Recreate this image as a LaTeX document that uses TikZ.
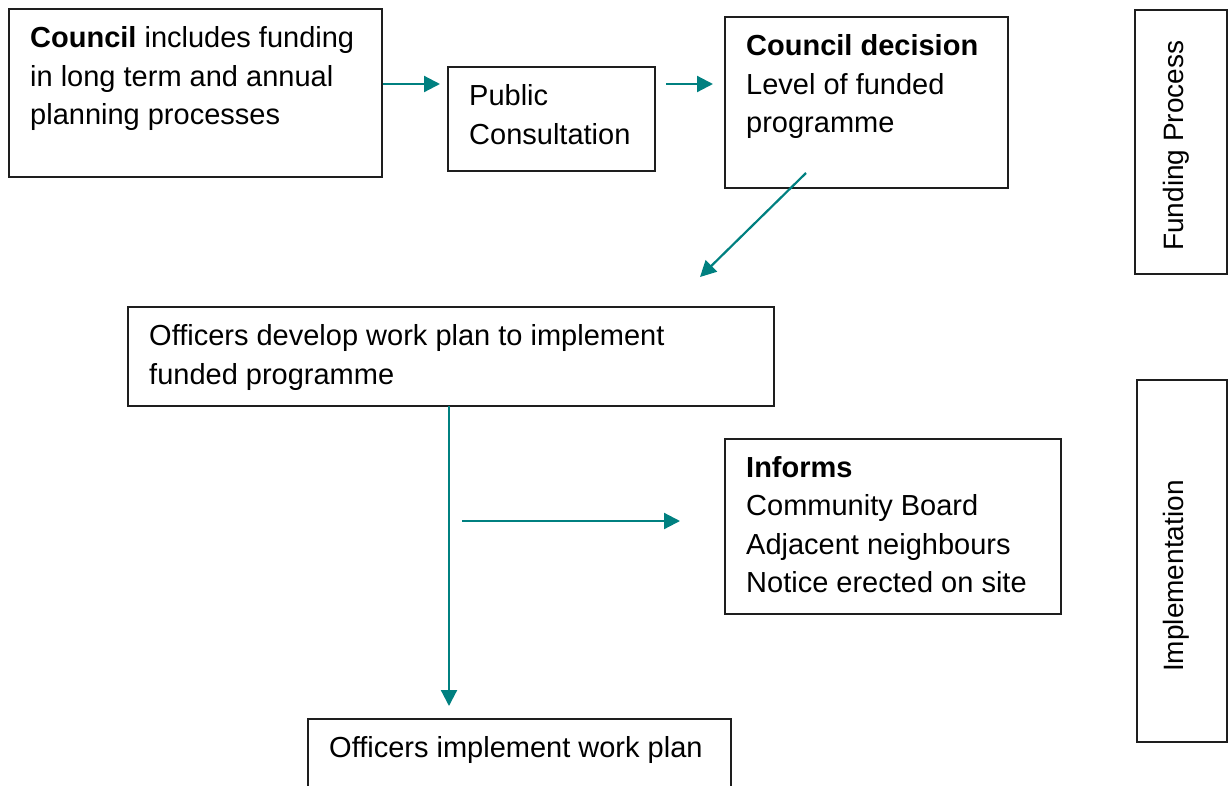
\documentclass[tikz,border=0pt]{standalone}
\usepackage{fontspec}
\setmainfont{Liberation Sans}
\usetikzlibrary{arrows.meta}
\definecolor{flowteal}{RGB}{0,128,128}
\definecolor{boxline}{RGB}{30,30,30}
\begin{document}
\begin{tikzpicture}[x=1pt,y=-1pt,
  box/.style={draw=boxline, line width=1.2pt, inner sep=0pt, outer sep=0pt, anchor=north west},
  txt/.style={anchor=base west, inner sep=0pt, font=\fontsize{29}{38.5}\selectfont},
  sidetxt/.style={anchor=base west, inner sep=0pt, rotate=90, font=\fontsize{28}{33}\selectfont},
  flow/.style={draw=flowteal, line width=2.2pt, -{Triangle[length=16pt,width=16pt]}}
]
\useasboundingbox (0,0) rectangle (1229,785);
\clip (0,0) rectangle (1229,785);

% boxes
\node[box, minimum width=373pt, minimum height=168pt] (b1) at (9,9) {};
\node[box, minimum width=207pt, minimum height=104pt] (b2) at (448,67) {};
\node[box, minimum width=283pt, minimum height=171pt] (b3) at (725,17) {};
\node[box, minimum width=646pt, minimum height=99pt] (b4) at (128,307) {};
\node[box, minimum width=336pt, minimum height=175pt] (b5) at (725,439) {};
\node[box, minimum width=423pt, minimum height=90pt] (b6) at (308,719) {};
\node[box, minimum width=92pt, minimum height=264pt] (s1) at (1135,10) {};
\node[box, minimum width=90pt, minimum height=362pt] (s2) at (1137,380) {};

% texts
\node[txt] (t1) at (30,47.5) {\parbox[t]{360pt}{\raggedright \textbf{Council} includes funding\\in long term and annual\\planning processes}};
\node[txt] (t2) at (469,105.5) {\parbox[t]{200pt}{\raggedright Public\\Consultation}};
\node[txt] (t3) at (746,55.5) {\parbox[t]{280pt}{\raggedright \textbf{Council decision}\\Level of funded\\programme}};
\node[txt] (t4) at (149,345.5) {\parbox[t]{620pt}{\raggedright Officers develop work plan to implement\\funded programme}};
\node[txt] (t5) at (746,477) {\parbox[t]{330pt}{\raggedright \textbf{Informs}\\Community Board\\Adjacent neighbours\\Notice erected on site}};
\node[txt] (t6) at (329,757.5) {Officers implement work plan};
\node[sidetxt] (st1) at (1183,251) {Funding Process};
\node[sidetxt] (st2) at (1183,672) {Implementation};

% arrow end points
\coordinate (a1s) at (383,84);
\coordinate (a1e) at (440,84);
\coordinate (a2s) at (666,84);
\coordinate (a2e) at (713,84);
\coordinate (a3s) at (806,173);
\coordinate (a3e) at (700,277);
\coordinate (a4s) at (449,406);
\coordinate (a4e) at (449,706);
\coordinate (a5s) at (462,521);
\coordinate (a5e) at (680,521);

\draw[flow] (a1s) -- (a1e);
\draw[flow] (a2s) -- (a2e);
\draw[flow] (a3s) -- (a3e);
\draw[flow] (a4s) -- (a4e);
\draw[flow] (a5s) -- (a5e);
\end{tikzpicture}
\end{document}
